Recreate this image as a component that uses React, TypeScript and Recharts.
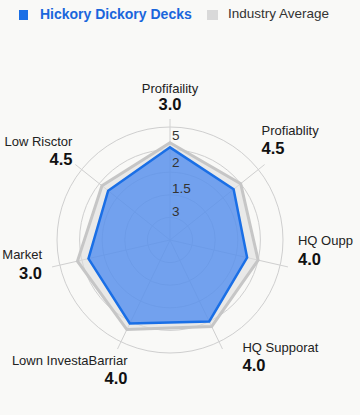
import React from "react";
import { RadarChart, Radar, PolarGrid, PolarAngleAxis, PolarRadiusAxis } from "recharts";

const categories = [
  "Profifaility",
  "Profiablity",
  "HQ Oupp",
  "HQ Supporat",
  "Lown InvestaBarriar",
  "Market",
  "Low Risctor",
];
const scoreLabels = ["3.0", "4.5", "4.0", "4.0", "4.0", "3.0", "4.5"];
const hickoryValues = [4.1, 3.6, 3.5, 4.0, 4.1, 3.7, 3.5];
const industryValues = [4.3, 4.0, 4.0, 4.25, 4.4, 4.2, 3.85];
const radiusTickLabels: Record<number, string> = { 5: "5", 4: "2", 3: "1.5", 2: "3" };

const data = categories.map((name, i) => ({
  name,
  score: scoreLabels[i],
  hickory: hickoryValues[i],
  industry: industryValues[i],
}));

const FONT = "'Liberation Sans', Arial, Helvetica, sans-serif";

// per-index label placement relative to tick point
const labelLayout = [
  { dx: 0, dy: -31, vdy: -15, anchor: "middle" },
  { dx: -3, dy: -34, vdy: -17, anchor: "start" },
  { dx: 10, dy: -26, vdy: -8, anchor: "start" },
  { dx: 20, dy: -2, vdy: 16, anchor: "start" },
  { dx: 10, dy: 11, vdy: 29, anchor: "end" },
  { dx: -10, dy: -12, vdy: 6, anchor: "end" },
  { dx: -3, dy: -23, vdy: -6, anchor: "end" },
];

const AngleTick = (props: any) => {
  const { x, y, index } = props;
  const l = labelLayout[index] || labelLayout[0];
  return (
    <g>
      <text
        x={x + l.dx}
        y={y + l.dy}
        textAnchor={l.anchor}
        dominantBaseline="central"
        fontFamily={FONT}
        fontSize={13}
        fill="#222"
      >
        {categories[index]}
      </text>
      <text
        x={x + l.dx}
        y={y + l.vdy}
        textAnchor={l.anchor}
        dominantBaseline="central"
        fontFamily={FONT}
        fontSize={16.5}
        fontWeight="bold"
        fill="#111"
      >
        {scoreLabels[index]}
      </text>
    </g>
  );
};

const radiusDy: Record<number, number> = { 5: 8, 4: 13, 3: 16, 2: 17 };

const RadiusTick = (props: any) => {
  const { x, y, payload } = props;
  const v = payload.value;
  const label = radiusTickLabels[v];
  if (!label) return <g />;
  return (
    <text
      x={x + 2}
      y={y + (radiusDy[v] || 0)}
      textAnchor="start"
      dominantBaseline="central"
      fontFamily={FONT}
      fontSize={13.5}
      fill="#333"
    >
      {label}
    </text>
  );
};

export default function App() {
  return (
    <div
      style={{
        position: "absolute",
        top: 0,
        left: 0,
        width: 360,
        height: 415,
        background: "#f9f9f7",
        overflow: "hidden",
      }}
    >
      <div style={{ position: "absolute", top: 0, left: 0, width: 360, height: 30, fontFamily: FONT }}>
        <div style={{ position: "absolute", left: 19, top: 9.5, width: 9, height: 10, background: "#1a6fe6" }} />
        <div
          style={{
            position: "absolute",
            left: 40,
            top: 5,
            fontSize: 14,
            lineHeight: "18px",
            fontWeight: "bold",
            color: "#1a66dc",
            whiteSpace: "nowrap",
          }}
        >
          Hickory Dickory Decks
        </div>
        <div style={{ position: "absolute", left: 207, top: 9.5, width: 11, height: 10, background: "#d9d9d9" }} />
        <div
          style={{
            position: "absolute",
            left: 228,
            top: 5,
            fontSize: 13.5,
            lineHeight: "18px",
            color: "#333",
            whiteSpace: "nowrap",
          }}
        >
          Industry Average
        </div>
      </div>
      <div style={{ position: "absolute", top: 0, left: 0 }}>
        <RadarChart
          width={360}
          height={415}
          data={data}
          cx={170}
          cy={240}
          outerRadius={113}
          margin={{ top: 0, right: 0, bottom: 0, left: 0 }}
        >
          <Radar
            name="Industry Average"
            dataKey="industry"
            stroke="#c6c6c6"
            strokeWidth={3}
            fill="#dcdcdc"
            fillOpacity={0.55}
            isAnimationActive={false}
          />
          <PolarGrid gridType="circle" stroke="#cfcfcf" strokeWidth={1} />
          <PolarAngleAxis
            dataKey="name"
            axisLine={false}
            tickLine={{ stroke: "#d2d2d2" }}
            tick={<AngleTick />}
          />
          <PolarRadiusAxis
            angle={90}
            domain={[0, 5]}
            tickCount={6}
            axisLine={false}
            tick={<RadiusTick />}
          />
          <Radar
            name="Hickory Dickory Decks"
            dataKey="hickory"
            stroke="#1a6fe6"
            strokeWidth={2.5}
            fill="#3a7ff0"
            fillOpacity={0.68}
            isAnimationActive={false}
          />
        </RadarChart>
      </div>
    </div>
  );
}
